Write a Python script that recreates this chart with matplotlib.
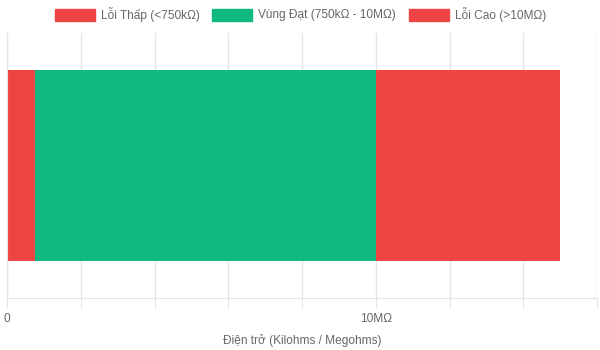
import matplotlib.pyplot as plt
from matplotlib.patches import Rectangle

plt.rcParams['font.family'] = ['Liberation Sans', 'DejaVu Sans']

# values in kOhm
segments = ['Lỗi Thấp (<750kΩ)', 'Vùng Đạt (750kΩ - 10MΩ)', 'Lỗi Cao (>10MΩ)']
widths = [750, 9250, 5000]
colors = ['#EF4444', '#10B981', '#EF4444']
x_max = 16000
tick_step = 2000
tick_labels = {0: '0', 10000: '10MΩ'}

fig = plt.figure(figsize=(6, 3.5), dpi=100)
ax = fig.add_axes([7/600, 1 - 298/350, 590/600, 265/350])

left = 0
for w, c in zip(widths, colors):
    ax.barh(0, w, left=left, height=0.72, color=c, edgecolor='none')
    left += w

ax.set_xlim(0, x_max)
ax.set_ylim(-0.5, 0.5)
ticks = list(range(0, x_max + 1, tick_step))
ax.set_xticks(ticks)
ax.set_xticklabels([tick_labels.get(t, '') for t in ticks])
ax.set_yticks([])
ax.grid(axis='x', color='#e5e5e5', linewidth=1)
ax.set_axisbelow(True)
for s in ['top', 'right']:
    ax.spines[s].set_visible(False)
ax.spines['left'].set_color('#e5e5e5')
ax.spines['bottom'].set_color('#e5e5e5')
ax.tick_params(axis='x', length=7, color='#e5e5e5', labelcolor='#666666',
               labelsize=8.6, pad=4)
ax.set_xlabel('Điện trở (Kilohms / Megohms)', fontsize=8.6, color='#666666', labelpad=6)

# legend drawn like the chart library does
box_x = [55, 212, 409]
for lbl, c, bx in zip(segments, colors, box_x):
    fig.patches.append(Rectangle((bx/600, 1 - 21/350), 40/600, 12/350,
                                 transform=fig.transFigure, color=c))
    fig.text((bx + 46)/600, 1 - 15/350, lbl, fontsize=8.6, color='#666666',
             va='center', ha='left')

fig.savefig('out.png', dpi=100)
